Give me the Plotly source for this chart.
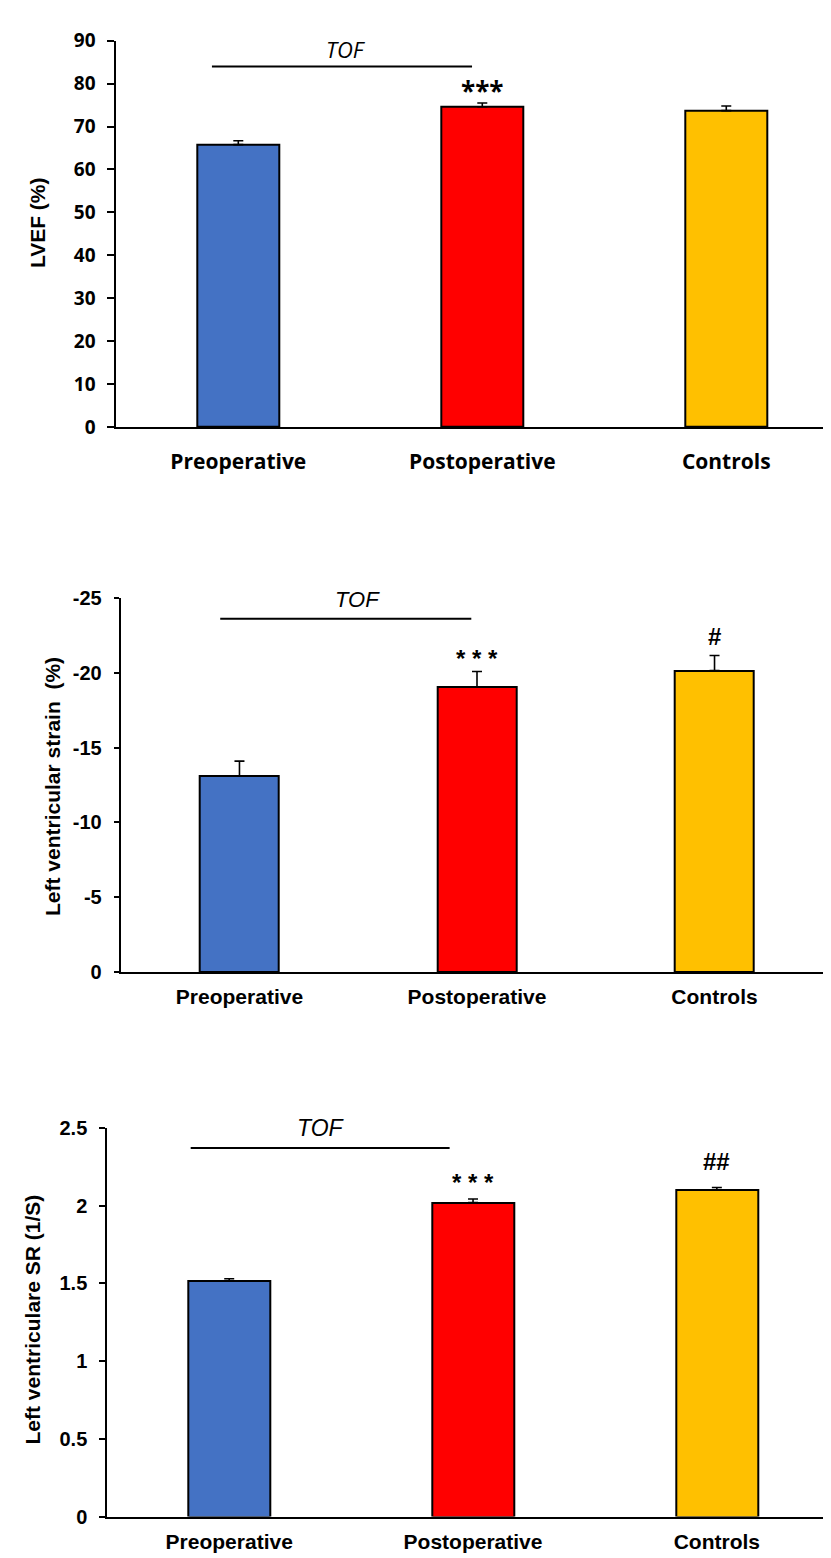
import plotly.graph_objects as go

# ---------------- data ----------------
categories = ["Preoperative", "Postoperative", "Controls"]
bar_colors = ["#4472C4", "#FF0000", "#FFC000"]

lvef_values = [65.8, 74.6, 73.7]
lvef_errors = [0.9, 0.9, 1.1]
lvef_ticks = [0, 10, 20, 30, 40, 50, 60, 70, 80, 90]
lvef_sig = ["", "***", ""]

strain_values = [-13.1, -19.05, -20.15]
strain_errors = [1.0, 1.03, 1.0]
strain_ticks = [0, -5, -10, -15, -20, -25]
strain_ticktext = ["0", "-5", "-10", "-15", "-20", "-25"]
strain_sig = ["", "* * *", "#"]

sr_values = [1.515, 2.02, 2.10]
sr_errors = [0.015, 0.023, 0.017]
sr_ticks = [0, 0.5, 1, 1.5, 2, 2.5]
sr_ticktext = ["0", "0.5", "1", "1.5", "2", "2.5"]
sr_sig = ["", "* * *", "##"]

# ---------------- figure ----------------
W, H = 831, 1558
fig = go.Figure()


def px_x(px):
    return px / W


def px_y(px):
    return 1 - px / H


panels = [
    dict(vals=lvef_values, errs=lvef_errors, sig=lvef_sig, ax="", neg=False,
         xdom=[px_x(108.3), 1], ydom=[px_y(413), px_y(20)],
         xrange=[-0.5, 2.462], yrange=[0, 90], width=0.336,
         tickvals=lvef_ticks, ticktext=[str(v) for v in lvef_ticks],
         tfam="Open Sans", ytick_size=19, xtick_size=21, ticklen=7, standoff=15,
         title="LVEF (%)", title_x=29, title_y=205.5,
         tof_x=(-0.108, 0.958), tof_y=84, tof_tx=0.44, tof_ty=88,
         tof_font=dict(family="Open Sans", size=22, style="italic", color="black"),
         sig_font=dict(family="Open Sans", size=26, color="black", weight="bold"),
         sig_shift={"***": 12}),
    dict(vals=strain_values, errs=strain_errors, sig=strain_sig, ax="2", neg=True,
         xdom=[px_x(112.7), 1], ydom=[px_y(967.3), px_y(586.7)],
         xrange=[-0.5, 2.524], yrange=[0, -25], width=0.333,
         tickvals=strain_ticks, ticktext=strain_ticktext,
         tfam="Liberation Sans", ytick_size=20, xtick_size=21, ticklen=5, standoff=5,
         title="Left ventricular strain \u00a0(%)", title_x=44, title_y=779,
         tof_x=(-0.081, 0.976), tof_y=-23.6, tof_tx=0.496, tof_ty=-24.9,
         tof_font=dict(family="Liberation Sans", size=22, style="italic", color="black"),
         sig_font=dict(family="Liberation Sans", size=24, color="black", weight="bold"),
         sig_shift={"* * *": 13, "#": 19}),
    dict(vals=sr_values, errs=sr_errors, sig=sr_sig, ax="3", neg=False,
         xdom=[px_x(99.3), 1], ydom=[px_y(1521), px_y(1125.7)],
         xrange=[-0.5, 2.501], yrange=[0, 2.5], width=0.336,
         tickvals=sr_ticks, ticktext=sr_ticktext,
         tfam="Liberation Sans", ytick_size=20, xtick_size=21, ticklen=6, standoff=5,
         title="Left ventriculare SR (1/S)", title_x=24, title_y=1320.5,
         tof_x=(-0.158, 0.904), tof_y=2.37, tof_tx=0.378, tof_ty=2.5,
         tof_font=dict(family="Liberation Sans", size=23, style="italic", color="black"),
         sig_font=dict(family="Liberation Sans", size=24, color="black", weight="bold"),
         sig_shift={"* * *": 16, "##": 26}),
]

annotations = []
shapes = []
layout_axes = {}

for p in panels:
    ax = p["ax"]
    xref = "x" + ax
    yref = "y" + ax
    zeros = [0] * len(p["vals"])
    if p["neg"]:
        err = dict(type="data", symmetric=False, array=zeros, arrayminus=p["errs"],
                   color="black", thickness=1.6, width=5)
    else:
        err = dict(type="data", symmetric=False, array=p["errs"], arrayminus=zeros,
                   color="black", thickness=1.6, width=5)
    fig.add_trace(go.Bar(
        x=categories, y=p["vals"], width=p["width"],
        marker=dict(color=bar_colors, line=dict(color="black", width=2)),
        error_y=err, xaxis=xref, yaxis=yref, showlegend=False,
    ))

    layout_axes["xaxis" + ax] = dict(
        domain=p["xdom"], anchor=yref, range=p["xrange"], type="category",
        showline=True, linecolor="black", linewidth=2, ticks="",
        showgrid=False, zeroline=False, fixedrange=True,
        tickfont=dict(family=p["tfam"], size=p["xtick_size"], color="black", weight="bold"),
        ticklabelstandoff=p["standoff"],
    )
    layout_axes["yaxis" + ax] = dict(
        domain=p["ydom"], anchor=xref, range=p["yrange"],
        showline=True, linecolor="black", linewidth=2,
        ticks="outside", ticklen=p["ticklen"], tickwidth=2, tickcolor="black",
        tickvals=p["tickvals"], ticktext=p["ticktext"],
        showgrid=False, zeroline=False, fixedrange=True,
        tickfont=dict(family=p["tfam"], size=p["ytick_size"], color="black", weight="bold"),
        ticklabelstandoff=8,
    )

    # y-axis title
    annotations.append(dict(
        text=p["title"], xref="paper", yref="paper",
        x=px_x(p["title_x"]), y=px_y(p["title_y"]),
        xanchor="center", yanchor="middle", textangle=-90, showarrow=False,
        font=dict(family="Liberation Sans", size=21, color="black", weight="bold"),
    ))

    # TOF bracket
    shapes.append(dict(type="line", xref=xref, yref=yref,
                       x0=p["tof_x"][0], x1=p["tof_x"][1],
                       y0=p["tof_y"], y1=p["tof_y"],
                       line=dict(color="black", width=2)))
    annotations.append(dict(text="TOF", xref=xref, yref=yref,
                            x=p["tof_tx"], y=p["tof_ty"], showarrow=False,
                            xanchor="center", yanchor="middle", font=p["tof_font"]))

    # significance markers
    for i, s in enumerate(p["sig"]):
        if not s:
            continue
        top = p["vals"][i] - p["errs"][i] if p["neg"] else p["vals"][i] + p["errs"][i]
        annotations.append(dict(
            text=s, xref=xref, yref=yref, x=i, y=top, showarrow=False,
            xanchor="center", yanchor="middle", yshift=p["sig_shift"][s],
            font=p["sig_font"],
        ))

fig.update_layout(
    width=W, height=H,
    margin=dict(l=0, r=0, t=0, b=0, pad=0),
    paper_bgcolor="white", plot_bgcolor="white",
    showlegend=False, bargap=0,
    annotations=annotations, shapes=shapes,
    **layout_axes,
)

fig.write_html("out.html")
